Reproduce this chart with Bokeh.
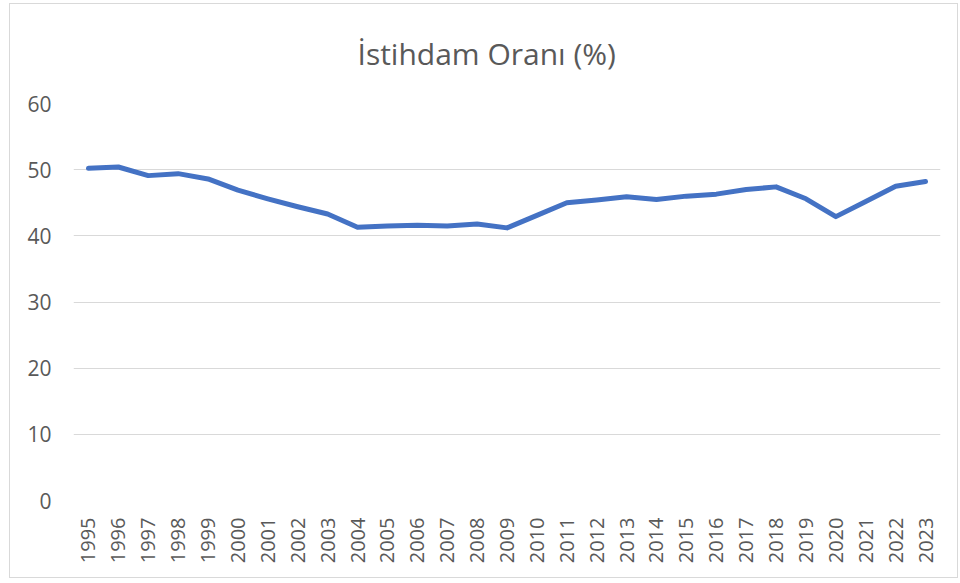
import math
from bokeh.plotting import figure
from bokeh.models import FactorRange, Range1d, FixedTicker
from bokeh.embed import file_html
from bokeh.resources import INLINE

years = [str(y) for y in range(1995, 2024)]
rates = [50.2, 50.4, 49.1, 49.4, 48.6, 46.9, 45.6, 44.4, 43.3, 41.3,
         41.5, 41.6, 41.5, 41.8, 41.2, 43.1, 45.0, 45.4, 45.9, 45.5,
         46.0, 46.3, 47.0, 47.4, 45.6, 42.9, 45.2, 47.5, 48.2]
y_ticks = [0, 10, 20, 30, 40, 50, 60]
title_text = "İstihdam Oranı (%)"

TXT = "#595959"

p = figure(width=949, height=575, x_range=FactorRange(factors=years),
           y_range=Range1d(0, 60), output_backend="svg", toolbar_location=None,
           title=title_text, min_border_left=63, min_border_right=19,
           min_border_top=99, min_border_bottom=79)

p.title.align = "left"
p.title.vertical_align = "top"
p.title.offset = 284
p.title.text_font = "Open Sans"
p.title.text_font_size = "30px"
p.title.text_font_style = "normal"
p.title.text_color = TXT
p.title.standoff = 55

p.line(x=years, y=rates, line_color="#4472C4", line_width=5,
       line_join="round", line_cap="round")

p.outline_line_color = None
p.xgrid.grid_line_color = None
p.ygrid.grid_line_color = "#d9d9d9"
p.ygrid.grid_line_width = 1
p.yaxis.ticker = FixedTicker(ticks=y_ticks)

for ax in (p.xaxis[0], p.yaxis[0]):
    ax.axis_line_color = None
    ax.major_tick_line_color = None
    ax.minor_tick_line_color = None
    ax.major_label_text_color = TXT
    ax.major_label_text_font = "Open Sans"
    ax.major_label_text_font_size = "20px"

p.yaxis.major_label_text_font_size = "21px"
p.yaxis.major_label_standoff = 16
p.xaxis.major_label_orientation = math.pi / 2
p.xaxis.major_label_standoff = 11
p.xaxis.group_text_font_size = "0px"

p.styles = {"border": "1px solid #d9d9d9", "margin-left": "9px", "margin-top": "3px"}

open("out.html", "w").write(file_html(p, INLINE))
